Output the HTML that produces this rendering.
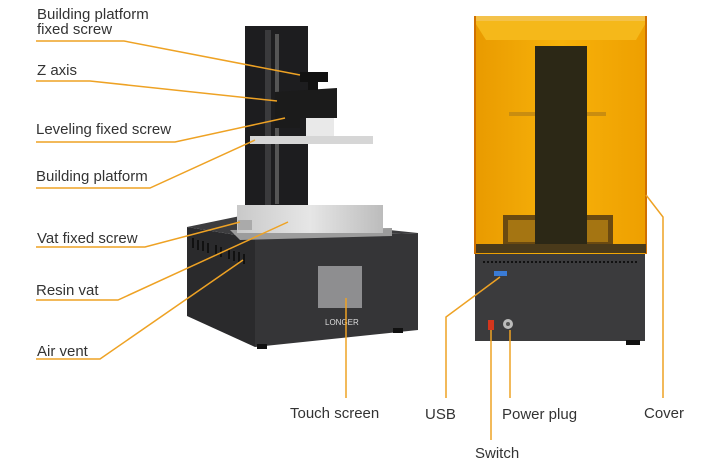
<!DOCTYPE html>
<html><head><meta charset="utf-8"><style>
html,body{margin:0;padding:0;background:#fff;width:720px;height:469px;overflow:hidden}
svg text{font-family:"Liberation Sans",sans-serif;font-size:15px;fill:#333}
</style></head><body>
<svg width="720" height="469" viewBox="0 0 720 469" xmlns="http://www.w3.org/2000/svg">
<defs>
<linearGradient id="cov" x1="0" y1="0" x2="1" y2="0">
<stop offset="0" stop-color="#e99a00"/><stop offset="0.5" stop-color="#f7b20a"/><stop offset="1" stop-color="#ee9f00"/>
</linearGradient>
<linearGradient id="vat" x1="0" y1="0" x2="1" y2="0">
<stop offset="0" stop-color="#c9c9c9"/><stop offset="0.5" stop-color="#e6e6e6"/><stop offset="1" stop-color="#bcbcbc"/>
</linearGradient>
</defs>
<rect x="245" y="26" width="63" height="185" fill="#1d1d1f"/>
<rect x="265" y="30" width="6" height="175" fill="#3a3a3c"/>
<rect x="275" y="34" width="4" height="170" fill="#555"/>
<polygon points="187,227 255,238 255,347 187,316" fill="#2a2a2c"/>
<polygon points="255,238 418,233 418,330 255,347" fill="#353537"/>
<polygon points="187,227 245,215 418,233 255,238" fill="#3d3d3f"/>
<g fill="#111">
<rect x="192" y="238" width="2" height="10"/><rect x="197" y="240" width="2" height="10"/><rect x="202" y="241" width="2" height="10"/><rect x="207" y="243" width="2" height="10"/>
<rect x="215" y="245" width="2" height="10"/><rect x="220" y="247" width="2" height="10"/><rect x="228" y="249" width="2" height="10"/><rect x="233" y="251" width="2" height="10"/><rect x="238" y="252" width="2" height="10"/><rect x="243" y="254" width="2" height="10"/>
</g>
<rect x="257" y="344" width="10" height="5" fill="#111"/><rect x="393" y="328" width="10" height="5" fill="#111"/>
<polygon points="230,230 392,228 392,236 240,240" fill="#9c9c9c"/>
<rect x="237" y="205" width="146" height="28" fill="url(#vat)"/>
<rect x="238" y="220" width="14" height="10" fill="#aaa"/>
<rect x="250" y="136" width="123" height="8" fill="#d6d6d6"/>
<rect x="306" y="110" width="28" height="26" fill="#e9e9e9"/>
<polygon points="275,92 337,88 337,118 300,118 300,128 275,128" fill="#1b1b1b"/>
<rect x="300" y="72" width="28" height="10" fill="#111"/>
<rect x="308" y="82" width="10" height="8" fill="#111"/>
<rect x="318" y="266" width="44" height="42" fill="#8e8e90"/>
<text x="325" y="325" style="font-size:8px;fill:#ddd">LONGER</text>
<rect x="474" y="16" width="173" height="238" fill="url(#cov)"/>
<rect x="474" y="16" width="173" height="5" fill="#f4c24a"/>
<polygon points="474,21 647,21 636,40 486,40" fill="#f5b81a"/>
<rect x="474" y="16" width="2" height="238" fill="#d07000"/><rect x="645" y="16" width="2" height="238" fill="#d07000"/>
<rect x="509" y="112" width="97" height="4" fill="#c98d10"/>
<rect x="503" y="215" width="110" height="30" fill="#6b4a10"/>
<rect x="508" y="220" width="100" height="22" fill="#a57512"/>
<rect x="535" y="46" width="52" height="206" fill="#2c2816"/>
<rect x="476" y="244" width="170" height="9" fill="#4a3a1a"/>
<rect x="475" y="254" width="170" height="87" fill="#3b3b3d"/>
<line x1="483" y1="262" x2="638" y2="262" stroke="#111" stroke-width="2" stroke-dasharray="2,2"/>
<rect x="494" y="271" width="13" height="5" fill="#3a7bd5"/>
<rect x="488" y="320" width="6" height="10" fill="#d3361d"/>
<circle cx="508" cy="324" r="5" fill="#bbb"/><circle cx="508" cy="324" r="2" fill="#555"/>
<rect x="626" y="340" width="14" height="5" fill="#111"/>
<g fill="none" stroke="#eea224" stroke-width="1.5">
<polyline points="36,41 124,41 300,75"/>
<polyline points="36,81 90,81 277,101"/>
<polyline points="36,142 175,142 285,118"/>
<polyline points="36,188 150,188 255,140"/>
<polyline points="36,247 145,247 240,222"/>
<polyline points="36,300 118,300 288,222"/>
<polyline points="36,359 100,359 243,260"/>
<polyline points="346,298 346,398"/>
<polyline points="500,277 446,317 446,398"/>
<polyline points="491,330 491,440"/>
<polyline points="510,330 510,398"/>
<polyline points="646,195 663,217 663,398"/>
</g>
<text x="37" y="19">Building platform</text>
<text x="37" y="34">fixed screw</text>
<text x="37" y="75">Z axis</text>
<text x="36" y="134">Leveling fixed screw</text>
<text x="36" y="181">Building platform</text>
<text x="37" y="243">Vat fixed screw</text>
<text x="36" y="295">Resin vat</text>
<text x="37" y="356">Air vent</text>
<text x="290" y="418">Touch screen</text>
<text x="425" y="419">USB</text>
<text x="502" y="419">Power plug</text>
<text x="644" y="418">Cover</text>
<text x="475" y="458">Switch</text>
</svg>
</body></html>
